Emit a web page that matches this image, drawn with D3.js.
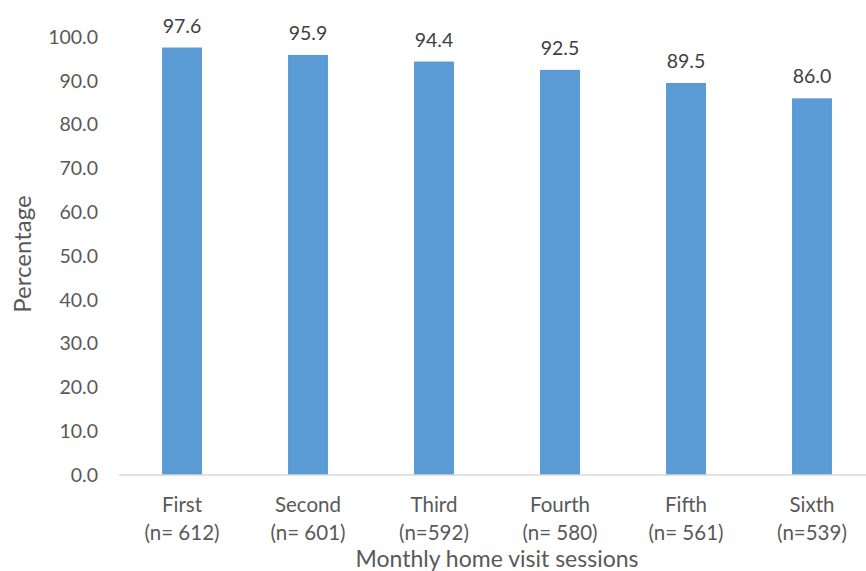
<!DOCTYPE html>
<html>
<head>
<meta charset="utf-8">
<script src="https://cdn.jsdelivr.net/npm/d3@7"></script>
<style>
  html, body { margin: 0; padding: 0; background: #fff; }
  svg { display: block; }
  text { font-family: Lato, "Open Sans", sans-serif; }
</style>
</head>
<body>
<svg id="chart" width="866" height="571"></svg>
<script>
const categories = ["First", "Second", "Third", "Fourth", "Fifth", "Sixth"];
const sampleSizes = ["(n= 612)", "(n= 601)", "(n=592)", "(n= 580)", "(n= 561)", "(n=539)"];
const values = [97.6, 95.9, 94.4, 92.5, 89.5, 86.0];
const yTicks = [0, 10, 20, 30, 40, 50, 60, 70, 80, 90, 100];
const xTitle = "Monthly home visit sessions";
const yTitle = "Percentage";

(function () {
const svg = d3.select("#chart");
const mLeft = 119, mRight = 875, mTop = 37, mBottom = 475;

const x = d3.scaleBand().domain(categories).range([mLeft, mRight]).paddingInner(0.683).paddingOuter(0.3415);
const y = d3.scaleLinear().domain([0, 100]).range([mBottom, mTop]);

// y axis labels
const yAxis = d3.axisLeft(y).tickValues(yTicks).tickFormat(d3.format(".1f")).tickSize(0).tickPadding(0);
const gy = svg.append("g").attr("transform", `translate(${98},0)`).call(yAxis);
gy.select(".domain").remove();
gy.selectAll("text").attr("fill", "#595959").style("font-size", "19.5px").style("font-family", "Lato, sans-serif");

// bars
svg.append("g").selectAll("rect").data(values).join("rect")
  .attr("x", (d, i) => x(categories[i]))
  .attr("y", d => y(d))
  .attr("width", x.bandwidth())
  .attr("height", d => y(0) - y(d))
  .attr("fill", "#5B9BD5");

// baseline
const xAxis = d3.axisBottom(x).tickSize(0).tickFormat("");
const gx = svg.append("g").attr("transform", `translate(0,${mBottom})`).call(xAxis);
gx.select(".domain").attr("stroke", "#D9D9D9").attr("stroke-width", 1.5).attr("d", `M${mLeft},0H${mRight}`);

// category labels
const cl = svg.append("g").selectAll("text").data(categories).join("text")
  .attr("x", d => x(d) + x.bandwidth() / 2)
  .attr("text-anchor", "middle")
  .attr("fill", "#595959")
  .style("font-size", "20.5px");
cl.append("tspan").attr("x", d => x(d) + x.bandwidth() / 2).attr("y", 512).text(d => d);
cl.append("tspan").attr("x", d => x(d) + x.bandwidth() / 2).attr("y", 540).text((d, i) => sampleSizes[i]);

// value labels
svg.append("g").selectAll("text").data(values).join("text")
  .attr("x", (d, i) => x(categories[i]) + x.bandwidth() / 2)
  .attr("y", d => y(d) - 15)
  .attr("text-anchor", "middle")
  .attr("fill", "#404040")
  .style("font-size", "19.5px")
  .text(d => d3.format(".1f")(d));

// axis titles
svg.append("text")
  .attr("x", 497).attr("y", 566.5)
  .attr("text-anchor", "middle").attr("fill", "#595959")
  .style("font-size", "23px").text(xTitle);

svg.append("text")
  .attr("transform", `translate(31,${254}) rotate(-90)`)
  .attr("text-anchor", "middle").attr("fill", "#595959")
  .style("font-size", "24px").text(yTitle);
})();
</script>
</body>
</html>
